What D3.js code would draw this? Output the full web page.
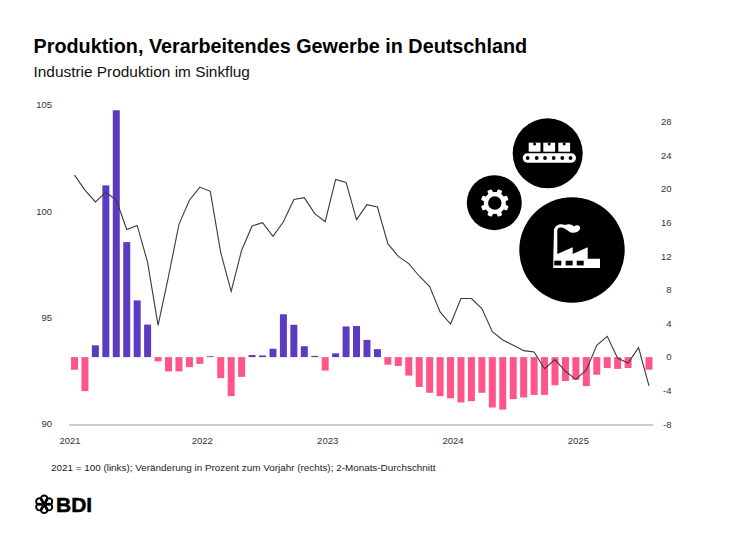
<!DOCTYPE html>
<html><head><meta charset="utf-8">
<script src="https://cdn.jsdelivr.net/npm/d3@7"></script>
<style>html,body{margin:0;padding:0;background:#fff}svg{display:block}text{font-family:"Liberation Sans",Arial,sans-serif}</style>
</head><body><svg id="c" width="730" height="533"></svg>
<script>
const yearLabels = ["2021","2022","2023","2024","2025"];
const yearStartIndex = [0,12,24,36,48];
const leftTicks = [90,95,100,105];
const rightTicks = [-8,-4,0,4,8,12,16,20,24,28];
const changeYoY = [-1.5,-4.05,1.4,20.45,29.4,13.7,6.75,3.87,-0.5,-1.7,-1.7,-1.2,-0.8,0.1,-2.5,-4.65,-2.35,0.25,0.2,1.0,5.1,3.85,1.3,0.15,-1.6,0.45,3.65,3.7,2.05,0.95,-0.9,-1.05,-2.2,-3.55,-4.25,-4.65,-4.9,-5.4,-5.25,-4.25,-6.0,-6.25,-5.0,-4.8,-4.5,-4.5,-3.35,-2.85,-2.7,-3.45,-2.1,-1.3,-1.4,-1.3,0.05,-1.5];
const indexLevel = [101.7,101.0,100.44,100.9,100.53,99.15,99.34,97.6,94.64,96.94,99.39,100.52,101.14,100.94,98.06,96.24,98.17,99.31,99.47,98.82,99.51,100.56,100.64,99.89,99.51,101.5,101.36,99.61,100.31,100.2,98.48,97.88,97.54,96.96,96.46,95.27,94.7,95.9,95.9,95.43,94.34,93.95,93.7,93.45,93.39,92.6,93.03,92.48,92.1,92.54,93.7,94.12,93.09,92.87,93.59,91.79];

const svg = d3.select("#c");
const months = d3.range(changeYoY.length);
const x = d3.scaleLinear().domain([0,55]).range([74.5,649]);
const yL = d3.scaleLinear().domain([90,105]).range([424,105]);
const yR = d3.scaleLinear().domain([-8,28]).range([424.3,122]);
const barW = 7;

svg.append("text").attr("x",33.5).attr("y",53).attr("font-size",19.8).attr("font-weight",700).attr("fill","#000").text("Produktion, Verarbeitendes Gewerbe in Deutschland");
svg.append("text").attr("x",33.5).attr("y",77).attr("font-size",15.4).attr("fill","#111").text("Industrie Produktion im Sinkflug");

svg.append("line").attr("x1",69).attr("x2",653.5).attr("y1",425).attr("y2",425).attr("stroke","#999").attr("stroke-width",1);

svg.append("g").selectAll("rect").data(months).join("rect")
  .attr("x",i=>x(i)-barW/2).attr("width",barW)
  .attr("y",i=>Math.min(yR(changeYoY[i]),yR(0)))
  .attr("height",i=>Math.abs(yR(changeYoY[i])-yR(0)))
  .attr("fill",i=>i===54?"#9fd8ee":changeYoY[i]>=0?"#5c3bc3":"#ff5589");

svg.append("path").datum(months).attr("fill","none").attr("stroke","#3a3a3a").attr("stroke-width",1.1).attr("stroke-linejoin","miter")
  .attr("d",d3.line().x(i=>x(i)).y(i=>yL(indexLevel[i])));

const tickStyle = s=>s.attr("font-size",9.5).attr("fill","#333");
svg.append("g").selectAll("text").data(leftTicks).join("text").attr("x",52).attr("y",d=>yL(d)+3.3).attr("text-anchor","end").text(d=>d).call(tickStyle);
svg.append("g").selectAll("text").data(rightTicks).join("text").attr("x",671.5).attr("y",d=>yR(d)+3.3).attr("text-anchor","end").text(d=>d).call(tickStyle);
svg.append("g").selectAll("text").data(yearLabels).join("text")
  .attr("x",(d,i)=>i===0?x(0)-4.5:x(yearStartIndex[i])+2.5).attr("y",444).attr("text-anchor","middle").text(d=>d).call(tickStyle);

svg.append("text").attr("x",51).attr("y",471).attr("font-size",9.9).attr("fill","#222").text("2021 = 100 (links); Veränderung in Prozent zum Vorjahr (rechts); 2-Monats-Durchschnitt");

// Icons
const icons = svg.append("g");
icons.append("circle").attr("cx",547.7).attr("cy",153.3).attr("r",35);
icons.append("circle").attr("cx",494.3).attr("cy",202.7).attr("r",27.5);
icons.append("circle").attr("cx",572).attr("cy",250).attr("r",52.7);
// conveyor
const conv = icons.append("g").attr("transform","translate(547.7,153.3)").attr("fill","#fff");
[-19,-4.4,10.6].forEach(dx=>{
  conv.append("rect").attr("x",dx).attr("y",-10.6).attr("width",11.8).attr("height",9);
  conv.append("rect").attr("x",dx+4.6).attr("y",-10.6).attr("width",2.6).attr("height",2.6).attr("fill","#000");
});
conv.append("rect").attr("x",-25).attr("y",0).attr("width",53.3).attr("height",9.4).attr("rx",4.7);
conv.selectAll("circle").data([-20,-11,-2.7,6,14.6,22.8]).join("circle").attr("cx",d=>d).attr("cy",4.7).attr("r",1.9).attr("fill","#000");
// gear
const gear = icons.append("g").attr("transform","translate(494.8,203)");
gear.append("circle").attr("r",8.9).attr("fill","none").attr("stroke","#fff").attr("stroke-width",4.3);
d3.range(8).forEach(k=>gear.append("rect").attr("x",-2.4).attr("y",-14).attr("width",4.8).attr("height",4.6).attr("rx",1).attr("fill","#fff").attr("transform",`rotate(${k*45+22.5})`));
// factory
const fac = icons.append("g").attr("transform","translate(572,250)").attr("fill","#fff");
fac.append("path").attr("d","M-18.7,18 L-18.7,8 L-18,-21 L-14.7,-21 L-14.7,4 L0.7,-2.7 L0.7,4 L15.7,-2.7 L15.7,8.7 L28,8.7 L28,18 Z");
fac.append("path").attr("d","M-18,-20 C-17,-25 -12,-27 -7,-25 C-3,-27 1,-25 2,-23.5 C5,-26 9,-24 8,-21 C6,-17 0,-16 -3,-18.5 C-6,-21 -9,-23 -12,-22.5 C-14,-22 -15,-21 -15,-19 Z");
[-17.7,-6.3,4.7].forEach(dx=>fac.append("rect").attr("x",dx).attr("y",10.7).attr("width",7).attr("height",4.7).attr("fill","#000"));

// logo
const logo = svg.append("g").attr("transform","translate(44.2,504.3)");
d3.range(6).forEach(k=>logo.append("circle").attr("cx",5.5*Math.cos(k*Math.PI/3+Math.PI/6)).attr("cy",5.5*Math.sin(k*Math.PI/3+Math.PI/6)).attr("r",3.3).attr("fill","none").attr("stroke","#000").attr("stroke-width",1.9));
logo.append("circle").attr("r",1.8);
svg.append("text").attr("x",56).attr("y",511.7).attr("font-size",21).attr("font-weight",700).attr("fill","#000").attr("stroke","#000").attr("stroke-width",0.5).text("BDI");
</script></body></html>
